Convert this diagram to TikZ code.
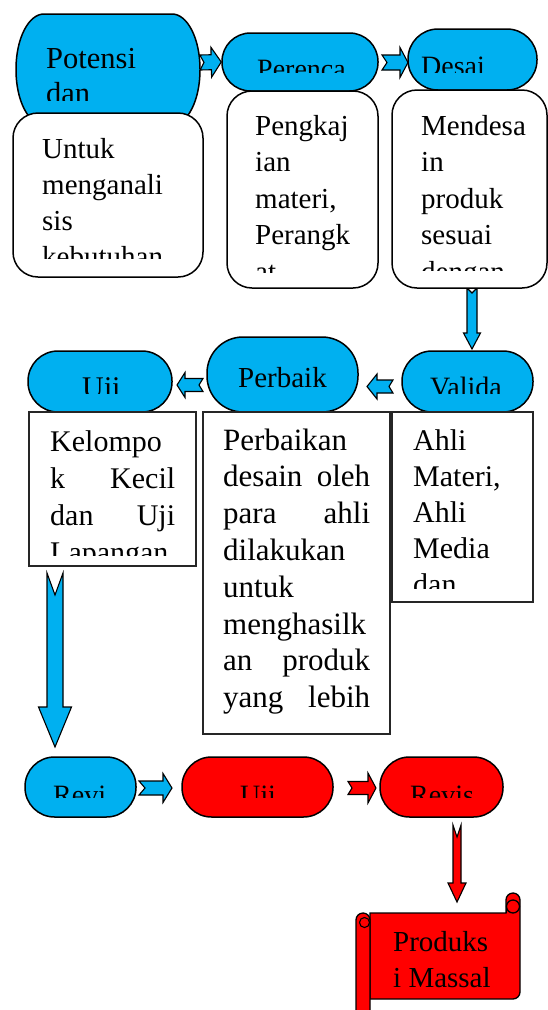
\documentclass[tikz,border=0pt]{standalone}
\usepackage{fontspec}
\setmainfont{Liberation Serif}
\usetikzlibrary{calc}
\definecolor{cblue}{RGB}{0,176,240}
\definecolor{cred}{RGB}{255,0,0}
\pgfdeclarelayer{bg}
\pgfsetlayers{bg,main}
\newcommand\AP[2]{({\x1+(#1)*\n2-(#2)*\n3},{\y1+(#1)*\n3+(#2)*\n2})}
\newcommand\barrow[7]{%
  \path[arr,#7] let \p1=(#1), \p2=(#2),
    \n1={veclen(\x2-\x1,\y2-\y1)}, \n2={(\x2-\x1)/\n1}, \n3={(\y2-\y1)/\n1} in
    \AP{0}{#3} -- \AP{\n1-#5}{#3} -- \AP{\n1-#5}{#4} -- \AP{\n1}{0} --
    \AP{\n1-#5}{-#4} -- \AP{\n1-#5}{-#3} -- \AP{0}{-#3} -- \AP{#6}{0} -- cycle;}
\newcommand\tx[3]{\parbox[t]{220pt}{\fontsize{#1pt}{#2pt}\selectfont #3}}
\tikzset{
  stad/.style={draw=black, line width=1.5pt, fill=cblue, rectangle, inner sep=0pt},
  wbox/.style={draw=black, line width=1.5pt, fill=white, rounded corners=25pt, rectangle, inner sep=0pt},
  rbox/.style={draw=black!85, line width=1.7pt, fill=white, rectangle, inner sep=0pt},
  txt/.style={inner sep=0pt, anchor=base west, text=black},
  arr/.style={draw=black, line width=1.1pt, fill=cblue},
  hidden/.style={rectangle, inner sep=0pt}
}
\begin{document}
\begin{tikzpicture}[x=1pt,y=-1pt]
\useasboundingbox (0,0) rectangle (547,1010);

% ---------- top row ----------
\node[hidden, minimum width=184pt, minimum height=111pt] (pot) at (108,69.5) {};
\path[draw=black, line width=1.5pt, fill=cblue]
  (44,14) -- (172,14) arc[start angle=90, end angle=0, x radius=28pt, y radius=55pt]
  -- (200,70) arc[start angle=0, end angle=-90, x radius=28pt, y radius=55pt]
  -- (44,125) arc[start angle=-90, end angle=-180, x radius=28pt, y radius=55pt]
  -- (16,69) arc[start angle=180, end angle=90, x radius=28pt, y radius=55pt] -- cycle;
\begin{scope}
  \clip (16,14) rectangle (200,100);
  \node[txt] (tpot) at (46,68) {\tx{30.5}{35}{Potensi\\dan}};
\end{scope}

\node[stad, minimum width=156pt, minimum height=58pt, rounded corners=28.5pt] (per) at (300,62) {};
\begin{scope}
  \clip (222,33) rectangle (378,72);
  \node[txt] (tper) at (257,78.5) {\fontsize{28pt}{34pt}\selectfont Perenca};
\end{scope}

\node[stad, minimum width=129pt, minimum height=61pt, rounded corners=30pt] (des) at (472.5,59.5) {};
\begin{scope}
  \clip (408,29) rectangle (537,72);
  \node[txt] (tdes) at (421,75.5) {\fontsize{28pt}{34pt}\selectfont Desai};
\end{scope}

\node[wbox, minimum width=190pt, minimum height=164pt] (b1) at (108,195) {};
\begin{scope}
  \clip (13,113) rectangle (203,258);
  \node[txt] (tb1) at (42,158) {\tx{29}{36}{Untuk\\menganali\\sis\\kebutuhan}};
\end{scope}

\node[wbox, minimum width=151pt, minimum height=197pt] (b2) at (302.5,189.5) {};
\begin{scope}
  \clip (227,91) rectangle (378,272);
  \node[txt] (tb2) at (255,135) {\tx{29}{36.5}{Pengkaj\\ian\\materi,\\Perangk\\at}};
\end{scope}

\node[wbox, minimum width=155pt, minimum height=198pt] (b3) at (469.5,189) {};
\begin{scope}
  \clip (392,90) rectangle (547,270);
  \node[txt] (tb3) at (421,135) {\tx{29}{36.5}{Mendesa\\in\\produk\\sesuai\\dengan}};
\end{scope}

% ---------- middle row ----------
\node[stad, minimum width=131pt, minimum height=61pt, rounded corners=30pt] (val) at (467.5,381.5) {};
\begin{scope}
  \clip (402,351) rectangle (533,393);
  \node[txt] (tval) at (430,396.5) {\fontsize{28pt}{34pt}\selectfont Valida};
\end{scope}

\node[stad, minimum width=151pt, minimum height=75pt, rounded corners=36pt] (perb) at (282.5,374.5) {};
\begin{scope}
  \clip (207,337) rectangle (358,405);
  \node[txt] (tperb) at (238,387) {\fontsize{29pt}{35pt}\selectfont Perbaik};
\end{scope}

\node[stad, minimum width=144pt, minimum height=61pt, rounded corners=30pt] (uji) at (100,381.5) {};
\begin{scope}
  \clip (28,351) rectangle (172,393);
  \node[txt] (tuji) at (82,397.5) {\fontsize{30pt}{34pt}\selectfont Uji};
\end{scope}

\node[rbox, minimum width=141pt, minimum height=190pt] (bv) at (462.5,507) {};
\begin{scope}
  \clip (392,412) rectangle (533,588);
  \node[txt] (tbv) at (413,450) {\tx{30}{36}{Ahli\\Materi,\\Ahli\\Media\\dan}};
\end{scope}

\node[rbox, minimum width=187pt, minimum height=322pt] (bp) at (296.5,573) {};
\node[txt] (tbp) at (223,450) {\tx{31}{36.8}{Perbaikan\\
  \makebox[147pt][s]{desain oleh}\\
  \makebox[147pt][s]{para ahli}\\
  dilakukan\\untuk\\menghasilk\\
  \makebox[147pt][s]{an produk}\\
  \makebox[147pt][s]{yang lebih}}};

\node[rbox, minimum width=167pt, minimum height=154pt] (bu) at (112.5,489) {};
\begin{scope}
  \clip (29,412) rectangle (196,555);
  \node[txt] (tbu) at (50,451) {\tx{30}{37}{Kelompo\\
    \makebox[125pt][s]{k Kecil}\\
    \makebox[125pt][s]{dan Uji}\\
    Lapangan}};
\end{scope}

% ---------- bottom row ----------
\node[stad, minimum width=111pt, minimum height=60pt, rounded corners=29.5pt] (rev1) at (80.5,787) {};
\begin{scope}
  \clip (25,757) rectangle (136,797);
  \node[txt] (trev1) at (53,804) {\fontsize{28pt}{34pt}\selectfont Revi};
\end{scope}

\node[stad, fill=cred, minimum width=151pt, minimum height=60pt, rounded corners=29.5pt] (uji2) at (257.5,787) {};
\begin{scope}
  \clip (182,757) rectangle (333,797);
  \node[txt] (tuji2) at (240,804) {\fontsize{28pt}{34pt}\selectfont Uji};
\end{scope}

\node[stad, fill=cred, minimum width=123pt, minimum height=60pt, rounded corners=29.5pt] (rev2) at (441.5,787) {};
\begin{scope}
  \clip (380,757) rectangle (503,797);
  \node[txt] (trev2) at (410,804) {\fontsize{28pt}{34pt}\selectfont Revis};
\end{scope}

% ---------- scroll ----------
\node[hidden, minimum width=164pt, minimum height=96pt] (prod) at (438,956) {};
\path[draw=black, line width=1.3pt, fill=cred]
  (370,913) -- (506,913) -- (506,900) arc[start angle=180, end angle=0, radius=7pt]
  -- (520,992) arc[start angle=0, end angle=-90, radius=7pt] -- (370,999) -- cycle;
\path[draw=black, line width=1.3pt, fill=cred] (513,906.5) circle[radius=6.5pt];
\draw[black, line width=1pt] (506,913) -- (506,907);
\path[draw=black, line width=1.3pt, fill=cred]
  (356,1014) -- (356,920) arc[start angle=180, end angle=0, radius=7pt] -- (370,1014);
\path[draw=black, line width=1.1pt, fill=cred] (364.5,922.5) circle[radius=5pt];
\node[txt] (tprod) at (393,951) {\tx{29}{36}{Produks\\i Massal}};

% ---------- connectors ----------
\coordinate (a1s) at (200,62.5);  \coordinate (a1e) at (per.west);
\coordinate (a2s) at (382,62.5);  \coordinate (a2e) at (408,62.5);
\coordinate (a6s) at (472,288);   \coordinate (a6e) at (472,349);
\coordinate (a3s) at (393,386.5); \coordinate (a3e) at (367,386.5);
\coordinate (a4s) at (203,385);   \coordinate (a4e) at (177,385);
\coordinate (a5s) at (55,573);    \coordinate (a5e) at (55,747);
\coordinate (a7s) at (139,788);   \coordinate (a7e) at (172,788);
\coordinate (a8s) at (348,788);   \coordinate (a8e) at (376,788);
\coordinate (a9s) at (457,825);   \coordinate (a9e) at (457,902);
\begin{pgfonlayer}{bg}
  \barrow{a1s}{a1e}{7.5}{15}{10}{4}{}
  \barrow{a2s}{a2e}{7.5}{15}{8}{5}{}
  \barrow{a6s}{a6e}{5}{8.5}{16}{5}{}
  \barrow{a3s}{a3e}{6.5}{12.5}{10}{4}{}
  \barrow{a4s}{a4e}{6.5}{12.5}{8}{4}{}
  \barrow{a5s}{a5e}{8}{16.5}{40}{22}{}
  \barrow{a7s}{a7e}{7}{14.5}{9}{6}{}
  \barrow{a8s}{a8e}{6.5}{15}{8}{4}{fill=cred}
  \barrow{a9s}{a9e}{4}{9}{19}{12}{fill=cred}
\end{pgfonlayer}
\end{tikzpicture}
\end{document}
